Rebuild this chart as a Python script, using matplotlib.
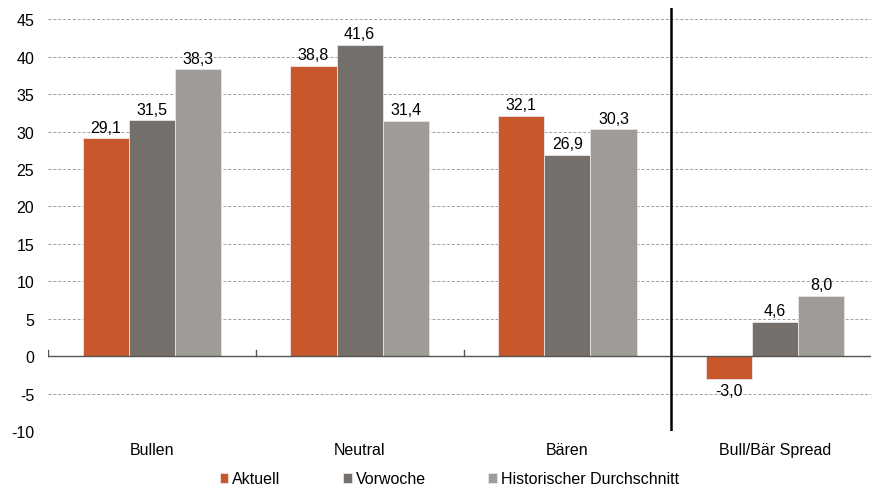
import numpy as np
import matplotlib
matplotlib.use("Agg")
import matplotlib.pyplot as plt

plt.rcParams['font.family'] = ['Liberation Sans', 'DejaVu Sans']
plt.rcParams['axes.unicode_minus'] = False

# Daten
kategorien = ["Bullen", "Neutral", "Bären", "Bull/Bär Spread"]
aktuell = [29.1, 38.8, 32.1, -3.0]
vorwoche = [31.5, 41.6, 26.9, 4.6]
historisch = [38.3, 31.4, 30.3, 8.0]
serien = ["Aktuell", "Vorwoche", "Historischer Durchschnitt"]
farben = ["#C8572C", "#75706B", "#9F9B97"]

fs = 11.5

fig = plt.figure(figsize=(8.71, 4.89), dpi=100)
ax = fig.add_axes([48 / 871, 57 / 489, 831 / 871, 423 / 489])

x = np.arange(len(kategorien))
w = 0.222
for i, (werte, name, farbe) in enumerate(zip([aktuell, vorwoche, historisch], serien, farben)):
    pos = x + (i - 1) * w
    ax.bar(pos, werte, width=w, color=farbe, edgecolor="#E8E6E4", linewidth=0.6,
           label=name, zorder=3)
    for px, v in zip(pos, werte):
        txt = f"{v:.1f}".replace(".", ",")
        if v >= 0:
            ax.text(px, v + 0.5, txt, ha="center", va="bottom", fontsize=fs, zorder=4)
        else:
            ax.text(px, v - 0.6, txt, ha="center", va="top", fontsize=fs, zorder=4)

ax.set_xlim(-0.5, 3.5)
ax.set_ylim(-10, 46.5)
ax.set_yticks(np.arange(-10, 46, 5))
ax.tick_params(axis="y", length=0, labelsize=fs, pad=10)
ax.grid(axis="y", color="#A0A0A0", linestyle=(0, (3, 2)), linewidth=0.7, zorder=0)

# Nulllinie mit Strichen an den Gruppengrenzen
ax.axhline(0, color="#555555", linewidth=1.0, zorder=5)
for b in [-0.5, 0.5, 1.5]:
    ax.plot([b, b], [0, 0.8], color="#555555", linewidth=1.0, zorder=5)
ax.axvline(2.5, color="black", linewidth=1.8, zorder=5)

ax.set_xticks(x)
ax.set_xticklabels(kategorien, fontsize=fs)
ax.tick_params(axis="x", length=0, pad=8)
for s in ax.spines.values():
    s.set_visible(False)

ax.legend(loc="upper center", bbox_to_anchor=(0.483, -0.073), ncol=3, frameon=False,
          fontsize=fs, handlelength=0.55, handleheight=0.55, handletextpad=0.25,
          columnspacing=3.9, borderaxespad=0.2)

plt.savefig("out.png", dpi=100)
